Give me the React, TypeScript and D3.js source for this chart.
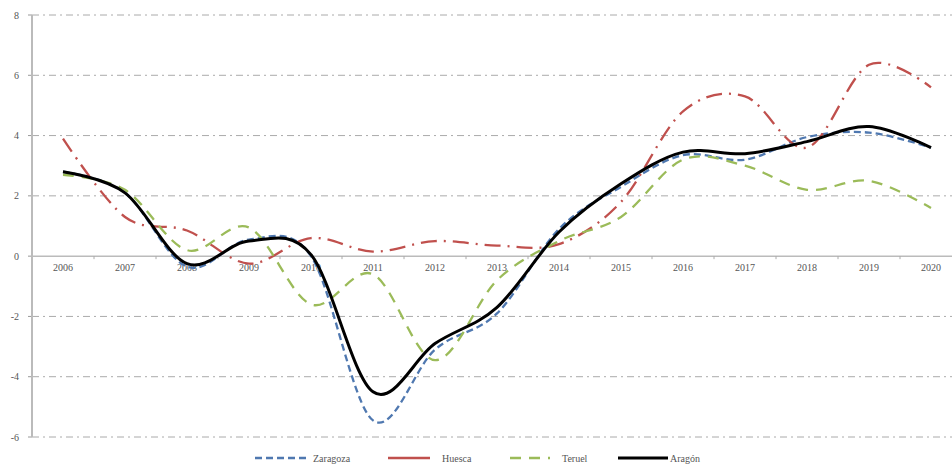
import React from "react";
import * as d3 from "d3";

const years = ["2006","2007","2008","2009","2010","2011","2012","2013","2014","2015","2016","2017","2018","2019","2020"];
const zaragoza = [2.8, 2.1, -0.35, 0.55, 0.0, -5.45, -3.1, -1.9, 0.9, 2.3, 3.35, 3.2, 3.95, 4.1, 3.6];
const huesca = [3.9, 1.3, 0.85, -0.25, 0.6, 0.15, 0.5, 0.35, 0.4, 1.8, 4.8, 5.3, 3.6, 6.35, 5.6];
const teruel = [2.7, 2.2, 0.2, 0.95, -1.6, -0.6, -3.45, -0.8, 0.5, 1.3, 3.2, 3.0, 2.2, 2.5, 1.6];
const aragon = [2.8, 2.1, -0.25, 0.5, 0.05, -4.5, -2.9, -1.7, 0.8, 2.4, 3.45, 3.4, 3.8, 4.3, 3.6];
const yTicks = [-6, -4, -2, 0, 2, 4, 6, 8];

const seriesNames = ["Zaragoza", "Huesca", "Teruel", "Aragón"];
const seriesData = [zaragoza, huesca, teruel, aragon];
const seriesColors = ["#4F78B0", "#C0504D", "#9BBB59", "#000000"];
const seriesDash = ["7,4", "16,7,2,7", "11,8", ""];
const seriesWidth = [2.3, 2.3, 2.3, 3];

export default function App() {
  const W = 952, H = 469;
  const axisX = 32;
  const step = 62;
  const x = d3.scalePoint<string>().domain(years).range([axisX + step / 2, axisX + step / 2 + step * (years.length - 1)]);
  const y = d3.scaleLinear().domain([-6, 8]).range([437, 15]);
  const line = d3.line<number>()
    .x((_, i) => x(years[i]) as number)
    .y((d) => y(d))
    .curve(d3.curveCardinal.tension(0));
  const font = "'Liberation Serif', 'DejaVu Serif', serif";
  const ts = { fontFamily: font };
  const legendX = [255, 388, 510, 618];
  const legendLen = [55, 42, 40, 50];
  return (
    <svg width={W} height={H} style={{ position: "absolute", left: 0, top: 0, background: "#fff" }}>
      {yTicks.filter((t) => t !== 0).map((t) => (
        <line key={"g" + t} x1={axisX} x2={W} y1={y(t)} y2={y(t)} stroke="#aaa" strokeWidth={1} strokeDasharray="7,4,2,4" />
      ))}
      {yTicks.map((t) => (
        <g key={"yt" + t}>
          <line x1={axisX - 4} x2={axisX} y1={y(t)} y2={y(t)} stroke="#999" />
          <text x={19} y={y(t)} dy="0.35em" textAnchor="end" fontSize={10} fill="#555" style={ts}>{t}</text>
        </g>
      ))}
      <line x1={axisX} x2={axisX} y1={y(8)} y2={y(-6)} stroke="#bbb" strokeWidth={2} />
      <line x1={axisX} x2={W} y1={y(0)} y2={y(0)} stroke="#bbb" strokeWidth={1.5} />
      {years.map((yr, i) => (
        <g key={yr}>
          <line x1={axisX + step * (i + 1)} x2={axisX + step * (i + 1)} y1={y(0)} y2={y(0) + 3} stroke="#aaa" />
          <text x={x(yr)} y={y(0) + 15} textAnchor="middle" fontSize={10} fill="#555" style={ts}>{yr}</text>
        </g>
      ))}
      {seriesData.map((d, k) => (
        <path key={seriesNames[k]} d={line(d) || ""} fill="none" stroke={seriesColors[k]} strokeWidth={seriesWidth[k]}
          strokeDasharray={seriesDash[k] || undefined} strokeLinecap="butt" />
      ))}
      {seriesNames.map((n, k) => (
        <g key={"lg" + n}>
          <line x1={legendX[k]} x2={legendX[k] + legendLen[k]} y1={458} y2={458} stroke={seriesColors[k]}
            strokeWidth={seriesWidth[k]} strokeDasharray={k === 0 ? "7,4" : k === 2 ? "11,8" : undefined} />
          <text x={legendX[k] + legendLen[k] + (k === 3 ? 2 : k === 0 ? 3 : 12)} y={458} dy="0.35em" fontSize={10} fill="#555" style={ts}>{n}</text>
        </g>
      ))}
    </svg>
  );
}
